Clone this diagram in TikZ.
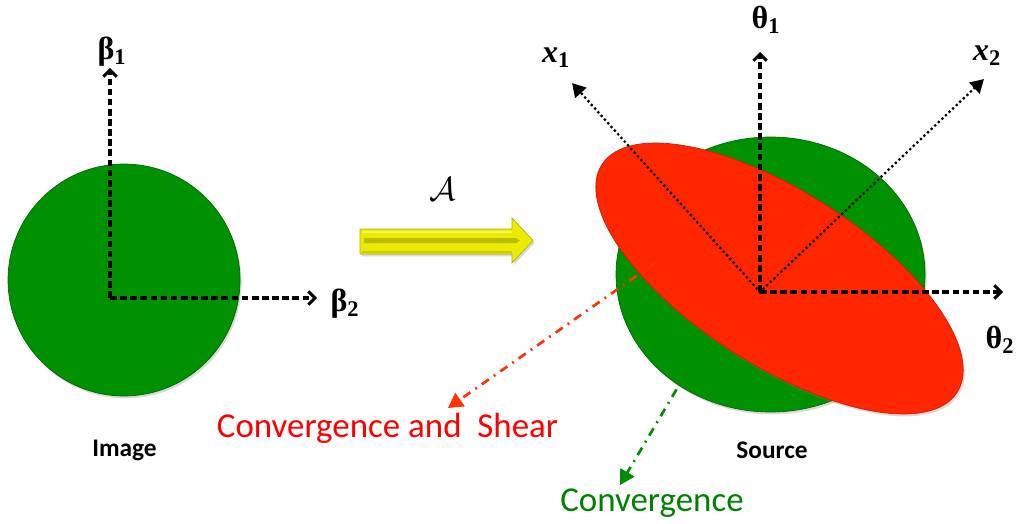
\documentclass[tikz,border=0pt]{standalone}
\usepackage{fontspec}
\setmainfont{Carlito}
\newfontfamily\lserif{Liberation Serif}
\usetikzlibrary{arrows.meta,shadows}
\definecolor{disk}{RGB}{0,145,0}
\definecolor{diskedge}{RGB}{0,100,0}
\definecolor{shear}{RGB}{255,38,0}
\definecolor{shearedge}{RGB}{200,30,0}
\definecolor{shearline}{RGB}{255,51,0}
\definecolor{convtext}{RGB}{0,130,0}
\definecolor{convline}{RGB}{0,140,0}
\definecolor{arrowyellow}{RGB}{235,235,0}
\definecolor{arrowdark}{RGB}{175,175,0}
\begin{document}
\begin{tikzpicture}[x=0.75pt,y=-0.75pt,
  axisline/.style={line width=2.3pt, dash pattern=on 5pt off 2.6pt,
    -{Straight Barb[length=5pt,width=10pt,line width=2.2pt]}},
  dotline/.style={line width=2.4pt, line cap=round, dash pattern=on 0pt off 3.7pt,
    -{Triangle[length=10pt,width=11pt]}},
  ddline/.style={line width=2pt, dash pattern=on 6.5pt off 4.5pt on 1.4pt off 4.5pt,
    -{Triangle[length=11pt,width=12pt]}},
  glabel/.style={font=\lserif\bfseries\fontsize{24}{28}\selectfont, inner sep=0pt},
  xlabel/.style={font=\lserif\bfseries\fontsize{24}{28}\selectfont, inner sep=0pt},
  bigtext/.style={font=\fontsize{26.2}{30}\selectfont, inner sep=0pt},
  smalltext/.style={font=\bfseries\fontsize{19}{22}\selectfont, inner sep=0pt},
  shadowed/.style={drop shadow={opacity=0.3, shadow xshift=1.2pt, shadow yshift=-1.8pt}}
]
\useasboundingbox (0,0) rectangle (1017,524);

% ---------- left: image disk ----------
\fill[disk, draw=diskedge, line width=0.5pt, shadowed] (124,280) circle [radius=116];

\coordinate (O1) at (110,298);
\coordinate (b1tip) at (110,68);
\coordinate (b2tip) at (317,298);
\draw[axisline] (O1) -- (b1tip);
\draw[axisline] (O1) -- (b2tip);
\node[glabel] (b1) at (112,52) {β\textsubscript{1}};
\node[glabel] (b2) at (345,304) {β\textsubscript{2}};
\node[smalltext] (img) at (124.5,450) {Image};

% ---------- middle: mapping arrow ----------
\node[inner sep=0pt, font=\fontsize{23}{26}\selectfont] (A) at (443,189) {$\mathcal{A}$};
\path[fill=arrowyellow, draw=arrowdark, line width=0.5pt, shadowed]
  (360,229) -- (512,229) -- (512,218) -- (533,240.5) -- (512,263) -- (512,254) -- (360,254) -- cycle;
\fill[arrowdark!80!arrowyellow] (364,238) -- (516,238) -- (520,240.5) -- (516,243) -- (364,243) -- cycle;
\fill[yellow!40!white, opacity=0.6] (362,230.5) -- (512,230.5) -- (512,233) -- (362,233) -- cycle;
\fill[arrowdark, opacity=0.5] (362,251) -- (512,251) -- (512,253) -- (362,253) -- cycle;

% ---------- right: source ----------
\fill[disk, draw=diskedge, line width=0.5pt, shadowed] (770.5,274.5) ellipse [x radius=154.5, y radius=137.5];
\begin{scope}[shift={(779.5,278.5)}, rotate=-32.7]
  \fill[shear, draw=shearedge, line width=0.5pt, shadowed] (0,0) ellipse [x radius=211, y radius=87];
\end{scope}

\coordinate (O2) at (760,292);
\coordinate (t1tip) at (760,52);
\coordinate (t2tip) at (1003,292);
\coordinate (x1tip) at (572,83);
\coordinate (x2tip) at (984,79);
\draw[dotline] (O2) -- (x1tip);
\draw[dotline] (O2) -- (x2tip);
\draw[axisline] (O2) -- (t1tip);
\draw[axisline] (O2) -- (t2tip);
\node[glabel] (t1) at (766,20) {θ\textsubscript{1}};
\node[glabel] (t2) at (1000,340) {θ\textsubscript{2}};
\node[xlabel] (x1) at (556,58) {\textit{x}\textsubscript{1}};
\node[xlabel] (x2) at (987,56) {\textit{x}\textsubscript{2}};
\node[smalltext] (src) at (772,450) {Source};

% ---------- pointers ----------
\node[bigtext, text=red] (cs) at (387.5,428) {Convergence and\ \ Shear};
\node[bigtext, text=convtext] (cv) at (652,503) {Convergence};
\coordinate (csstart) at (655,263);
\coordinate (cstip) at (448,408);
\coordinate (cvstart) at (688,370);
\coordinate (cvtip) at (620,485);
\draw[ddline, shearline] (csstart) -- (cstip);
\draw[ddline, convline] (cvstart) -- (cvtip);
\end{tikzpicture}
\end{document}
